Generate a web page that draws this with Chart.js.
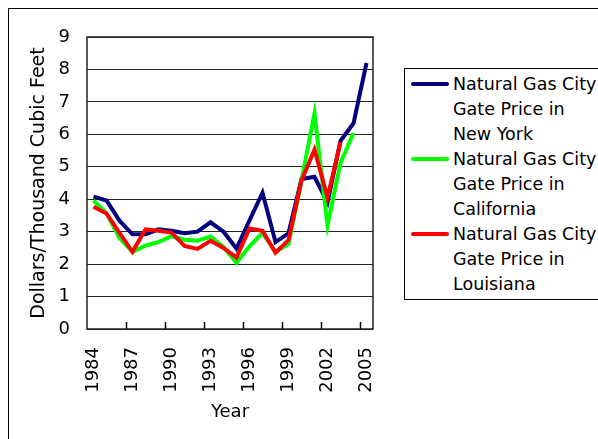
<!DOCTYPE html>
<html>
<head>
<meta charset="utf-8">
<script src="https://cdn.jsdelivr.net/npm/chart.js@4.4.1/dist/chart.umd.min.js"></script>
<style>
  html, body { margin: 0; padding: 0; background: #fff; overflow: hidden; }
  #wrap { position: relative; width: 598px; height: 439px; overflow: hidden; background: #fff; }
  #frame { position: absolute; left: 8px; top: 8px; width: 700px; height: 600px; border: 1px solid #000; }
  #chart { position: absolute; left: 0; top: 0; }
  #legend { position: absolute; left: 404px; top: 68px; width: 300px; border: 1px solid #000;
            padding: 3px 0 2px 0; font: 17.5px "DejaVu Sans", sans-serif; line-height: 25px;
            color: #000; background: #fff; }
  .item { position: relative; padding-left: 48px; }
  .item span { display: block; width: 150px; }
  .swatch { position: absolute; left: 6px; top: 10px; width: 38px; height: 4px; border-radius: 2px; }
</style>
</head>
<body>
<div id="wrap">
  <div id="frame"></div>
  <canvas id="chart" width="598" height="439"></canvas>
  <div id="legend"></div>
</div>
<script>
// Natural gas city gate prices, dollars per thousand cubic feet
const years = ['1984','1985','1986','1987','1988','1989','1990','1991','1992','1993','1994',
               '1995','1996','1997','1998','1999','2000','2001','2002','2003','2004','2005'];
const newYork = [4.08, 3.96, 3.34, 2.92, 2.92, 3.07, 3.03, 2.95, 3.00, 3.29, 3.00,
                 2.48, 3.35, 4.20, 2.68, 2.95, 4.62, 4.69, 3.90, 5.80, 6.34, 8.20];
const california = [3.96, 3.57, 2.80, 2.38, 2.57, 2.68, 2.86, 2.75, 2.72, 2.85, 2.53,
                    2.04, 2.55, 2.96, 2.38, 2.62, 4.58, 6.65, 3.20, 5.12, 6.04, null];
const louisiana = [3.77, 3.56, 2.96, 2.38, 3.07, 3.03, 2.97, 2.56, 2.47, 2.72, 2.50,
                   2.20, 3.10, 3.03, 2.35, 2.74, 4.57, 5.53, 4.05, 5.76, null, null];
const seriesNames = ['Natural Gas City Gate Price in New York',
                     'Natural Gas City Gate Price in California',
                     'Natural Gas City Gate Price in Louisiana'];
const seriesColors = ['#000080', '#00ff00', '#ff0000'];
const yTicks = [0, 1, 2, 3, 4, 5, 6, 7, 8, 9];
const labelEvery = 3;

const FONT = { family: '"DejaVu Sans", sans-serif', size: 18 };

// Plot-area frame and the short inward tick marks on the category axis
const plotFrame = {
  id: 'plotFrame',
  beforeDatasetsDraw(chart) {
    const { ctx, chartArea: a } = chart;
    const xs = chart.scales.x;
    ctx.save();
    ctx.strokeStyle = '#000';
    ctx.lineWidth = 1.5;
    for (let i = labelEvery; i < years.length; i += labelEvery) {
      const x = Math.round((xs.getPixelForValue(i - 1) + xs.getPixelForValue(i)) / 2) + 0.5;
      ctx.beginPath();
      ctx.moveTo(x, a.bottom);
      ctx.lineTo(x, a.bottom - 7);
      ctx.stroke();
    }
    ctx.strokeStyle = '#222';
    ctx.lineWidth = 1.5;
    ctx.strokeRect(a.left, a.top, a.right - a.left, a.bottom - a.top);
    ctx.restore();
  }
};

const datasets = [newYork, california, louisiana].map((d, k) => ({
  label: seriesNames[k],
  data: d,
  borderColor: seriesColors[k],
  backgroundColor: seriesColors[k],
  borderWidth: 4,
  pointRadius: 0,
  tension: 0,
  spanGaps: false,
  order: 2 - k
}));

new Chart(document.getElementById('chart'), {
  type: 'line',
  data: { labels: years, datasets },
  options: {
    responsive: false,
    animation: false,
    layout: { padding: { left: 0, top: 37, right: 225, bottom: 0 } },
    plugins: { legend: { display: false }, tooltip: { enabled: false } },
    scales: {
      x: {
        offset: true,
        grid: { display: false, drawTicks: false },
        border: { display: false },
        ticks: {
          autoSkip: false, minRotation: 90, maxRotation: 90, padding: 18,
          color: '#000', font: FONT,
          callback: (v, i) => (i % labelEvery === 0 ? years[i] : '')
        },
        title: { display: true, text: 'Year', color: '#000', font: FONT, padding: { top: 0, bottom: 16 } },
        afterFit: s => { s.height = 110; }
      },
      y: {
        min: yTicks[0], max: yTicks[yTicks.length - 1],
        afterBuildTicks: s => { s.ticks = yTicks.map(v => ({ value: v })); },
        grid: { color: '#222', lineWidth: 1, drawTicks: false },
        border: { display: false },
        ticks: { padding: 17, color: '#000', font: FONT },
        title: { display: true, text: 'Dollars/Thousand Cubic Feet', color: '#000',
                 font: { family: FONT.family, size: 19 }, padding: { top: 28, bottom: 0 } },
        afterFit: s => { s.width = 87; }
      }
    }
  },
  plugins: [plotFrame]
});

// Legend built from the same series names and colours
const legend = document.getElementById('legend');
seriesNames.forEach((name, k) => {
  const item = document.createElement('div');
  item.className = 'item';
  const sw = document.createElement('div');
  sw.className = 'swatch';
  sw.style.background = seriesColors[k];
  const txt = document.createElement('span');
  txt.textContent = name;
  item.appendChild(sw);
  item.appendChild(txt);
  legend.appendChild(item);
});
</script>
</body>
</html>
